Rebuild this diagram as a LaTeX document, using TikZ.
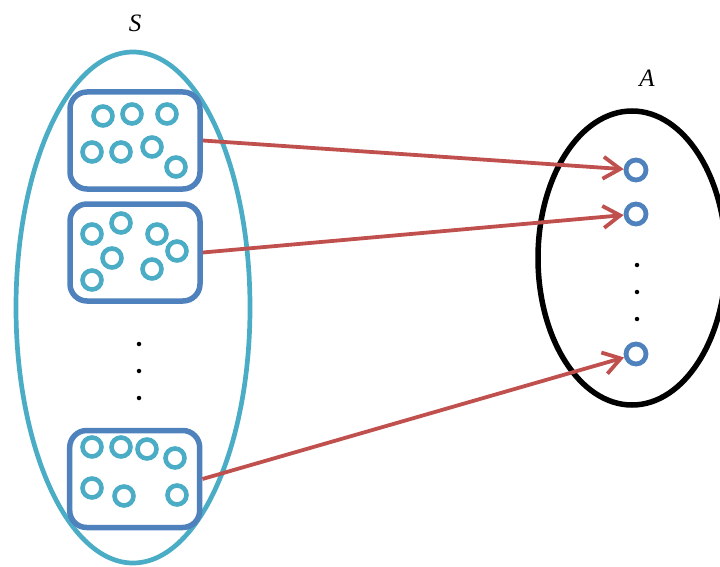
\documentclass[tikz,border=0pt]{standalone}
\usepackage{fontspec}
\setmainfont{Liberation Serif}
\usetikzlibrary{shapes.geometric,arrows.meta}
\definecolor{setteal}{HTML}{4BACC6}
\definecolor{boxblue}{HTML}{4F81BD}
\definecolor{mapred}{HTML}{C0504D}
\begin{document}
\begin{tikzpicture}[x=1pt, y=-1pt,
  set/.style={ellipse, draw, line width=4.7pt, inner sep=0},
  box/.style={rectangle, rounded corners=17pt, draw=boxblue, line width=5.5pt, minimum width=130pt, minimum height=97pt, inner sep=0},
  elem/.style={circle, draw=setteal, line width=4.6pt, minimum size=19pt, inner sep=0},
  img/.style={circle, draw=boxblue, line width=4.8pt, minimum size=20pt, inner sep=0},
  pt/.style={circle, fill=black, minimum size=4.5pt, inner sep=0},
  lbl/.style={font=\fontsize{25}{25}\selectfont\itshape},
  map/.style={-{Straight Barb[length=17pt,width=22pt]}, draw=mapred, line width=3.8pt}]
\useasboundingbox (0,0) rectangle (720,567);
% Sets
\node[set, draw=setteal, minimum width=234pt, minimum height=511pt] (S) at (133,307.5) {};
\node[set, draw=black, line width=5.5pt, minimum width=188pt, minimum height=294pt] (A) at (632,258) {};
\node[lbl] (LS) at (135,23) {S};
\node[lbl] (LA) at (647,78) {A};

% Blocks of S
\node[box] (B1) at (135,140.5) {};
\node[box] (B2) at (135,252.5) {};
\node[box] (B3) at (134.7,479) {};
\foreach \x/\y [count=\i] in {103/116, 132/114, 167/114, 92/152, 121/152, 152/147, 176/167}
  \node[elem] (e1\i) at (\x,\y) {};
\foreach \x/\y [count=\i] in {92/234, 121/223, 112/258, 92/280, 157/234, 177/251, 152/269}
  \node[elem] (e2\i) at (\x,\y) {};
\foreach \x/\y [count=\i] in {92/447, 121/447, 147/449, 175/458, 92/488, 124/496, 177/495}
  \node[elem] (e3\i) at (\x,\y) {};
\foreach \y [count=\i] in {344,371,398}
  \node[pt] (p\i) at (139,\y) {};

% Points of A
\node[img] (a1) at (636,170) {};
\node[img] (a2) at (636,214) {};
\node[img] (a3) at (636,354) {};
\foreach \y [count=\i] in {265,292,319}
  \node[pt] (q\i) at (637,\y) {};

\draw[map] (B1.east) -- (a1);
\draw[map] (B2.east) -- (a2);
\draw[map] (B3.east) -- (a3);
\end{tikzpicture}
\end{document}
